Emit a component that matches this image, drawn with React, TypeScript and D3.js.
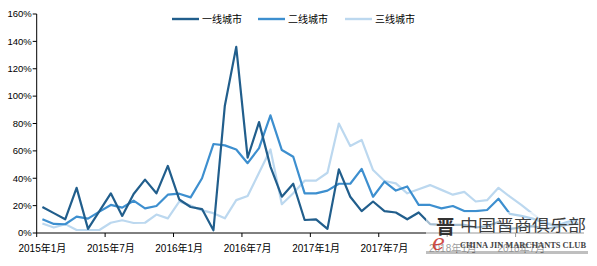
import React from "react";
import * as d3 from "d3";

const W = 597;
const H = 266;

const seriesNames = ["一线城市", "二线城市", "三线城市"];
const seriesColors = ["#215E8C", "#3D8FCF", "#BCD8EF"];

// monthly categories 2015-01 .. 2018-12
const categories: string[] = [];
for (let y = 2015; y <= 2018; y++) for (let m = 1; m <= 12; m++) categories.push(`${y}年${m}月`);

const tickLabels = ["2015年1月", "2015年7月", "2016年1月", "2016年7月", "2017年1月", "2017年7月", "2018年1月", "2018年7月"];
const yTicks = [0, 20, 40, 60, 80, 100, 120, 140, 160];

// values in %
const tier1 = [19, 14.5, 10, 33, 3, 16, 29, 12.5, 28.5, 39, 29, 49, 24.5, 19, 17.5, 2, 93, 136, 55, 81, 48.5, 26.5, 36, 9.5, 10, 3, 46.5, 26.5, 16, 23, 16, 15, 10, 15, 6.5, 6, 6, 6, 4, 5, 8, 3, 4, 5, 3, 4, 6, 7];
const tier2 = [10, 6.6, 6.4, 12, 10.5, 15.6, 20.5, 18.5, 23.6, 18, 19.7, 28, 28.7, 26, 40, 65, 64, 61, 51, 62, 86, 60.6, 55.7, 29, 29, 31, 36, 36, 46.8, 26.5, 37.5, 31, 34, 20.5, 20.5, 18, 19.7, 16, 16, 16.8, 25, 14, 12.5, 10.5, 7.5, 5, 8, 10];
const tier3 = [7, 4, 6.5, 2.2, 2.2, 2.2, 7.5, 9.3, 7.3, 7.5, 13.5, 10.7, 23, 20, 16.5, 14.5, 10.7, 24, 27, 44, 61, 21, 29, 38.2, 38.2, 44, 80, 63.6, 68, 46, 38, 36.3, 29, 32, 35, 31.5, 28, 30, 23, 24, 33, 26.5, 20.5, 14, 8, 6, 7, 10];

const seriesData = [tier1, tier2, tier3];

export default function App() {
  const x = d3.scaleBand<string>().domain(categories).range([36.7, 584]).padding(0);
  const y = d3.scaleLinear().domain([0, 160]).range([233, 14]);
  const bw = x.bandwidth();
  const cx = (c: string) => (x(c) as number) + bw / 2;

  const line = d3
    .line<number>()
    .x((_, i) => cx(categories[i]))
    .y((d) => y(d));

  const axisFont = "'Liberation Sans', Arial, 'Noto Sans CJK SC', sans-serif";
  const x0 = x.range()[0];
  const x1 = x.range()[1];

  const legendX = [172, 258, 345];

  return (
    <svg width={W} height={H} style={{ position: "absolute", left: 0, top: 0, background: "#fff" }}>
      {/* series lines, drawn light to dark so dark is on top */}
      {[2, 1, 0].map((si) => (
        <path key={si} d={line(seriesData[si]) || ""} fill="none" stroke={seriesColors[si]} strokeWidth={2.2} strokeLinejoin="round" />
      ))}

      {/* y axis */}
      <line x1={x0} x2={x0} y1={y(160)} y2={y(0)} stroke="#000" strokeWidth={1} />
      {yTicks.map((t) => (
        <g key={t}>
          <line x1={x0 - 4} x2={x0} y1={y(t)} y2={y(t)} stroke="#000" strokeWidth={1} />
          <text x={x0 - 5} y={y(t)} dy="0.35em" textAnchor="end" fontSize={9.5} fontFamily={axisFont} fill="#000">
            {t}%
          </text>
        </g>
      ))}

      {/* x axis */}
      <line x1={x0} x2={x1} y1={y(0)} y2={y(0)} stroke="#000" strokeWidth={1} />
      {tickLabels.map((lab) => {
        const bx = x(lab) as number;
        return (
          <g key={lab}>
            <line x1={bx} x2={bx} y1={y(0)} y2={y(0) + 4} stroke="#000" strokeWidth={1} />
            <text x={bx + bw / 2} y={252} textAnchor="middle" fontSize={10} fontFamily={axisFont} fill="#000">
              {lab}
            </text>
          </g>
        );
      })}

      {/* legend */}
      {seriesNames.map((n, i) => (
        <g key={n}>
          <line x1={legendX[i]} x2={legendX[i] + 27} y1={19} y2={19} stroke={seriesColors[i]} strokeWidth={2.4} />
          <text x={legendX[i] + 30} y={19} dy="0.36em" fontSize={10} fontFamily="'Noto Sans CJK SC', sans-serif" fill="#000">
            {n}
          </text>
        </g>
      ))}

      {/* watermark */}
      <g>
        <rect x={426} y={212} width={162} height={40} fill="#fff" opacity={0.6} />
        <rect x={426} y={251} width={162} height={3} fill="#8a8a8a" opacity={0.55} />
        <text x={436} y={234} fontSize={19} fontWeight="bold" fontFamily="'Noto Sans CJK SC', serif" fill="#333">
          晋
        </text>
        <text x={432} y={250} fontSize={22} fontStyle="italic" fontFamily="'DejaVu Serif', serif" fill="#c8302a" opacity={0.85}>
          e
        </text>
        <text x={460} y={231} fontSize={16} textLength={126} lengthAdjust="spacingAndGlyphs" fontFamily="'Noto Sans CJK SC', serif" fill="#3d3d3d">
          中国晋商俱乐部
        </text>
        <text x={460} y={248} fontSize={7.5} fontWeight="bold" textLength={126} lengthAdjust="spacingAndGlyphs" fontFamily="'Liberation Serif', serif" fill="#444">
          CHINA JIN MARCHANTS CLUB
        </text>
      </g>
    </svg>
  );
}
